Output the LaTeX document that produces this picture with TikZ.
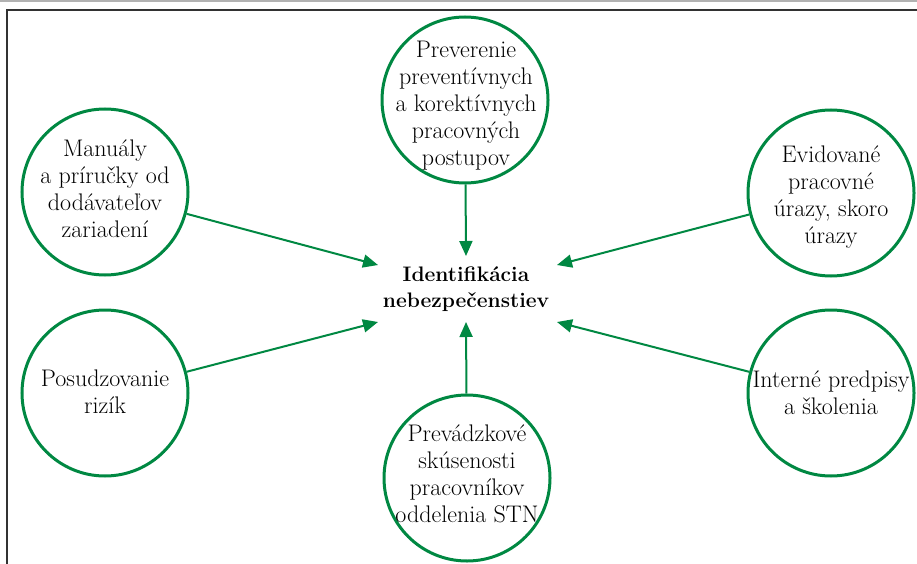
\documentclass[tikz,border=0pt]{standalone}
\usetikzlibrary{arrows.meta}
\definecolor{gr}{RGB}{0,136,66}
\definecolor{fr}{RGB}{50,50,50}
\tikzset{
  src/.style={circle, draw=gr, line width=3pt, minimum size=166pt, inner sep=0pt},
  txt/.style={align=center, font=\fontsize{24}{27}\selectfont, text=black, inner sep=0pt},
  arr/.style={draw=gr, line width=2pt, -{Triangle[length=15pt,width=13pt]}},
}
\begin{document}
\begin{tikzpicture}[x=1pt,y=-1pt]
\useasboundingbox (0,0) rectangle (917,564);
\draw[gray!60, line width=1.2pt] (0,1) -- (917,1);
\draw[fr, line width=2.2pt] (7,564) -- (7,10) -- (917,10);
\node[src] (t) at (465,100) {};
\node[txt] (tt) at (466,106) {Preverenie\\preventívnych\\a korektívnych\\pracovných\\postupov};
\node[src] (lt) at (105,192) {};
\node[txt] (ltt) at (105,189) {Manuály\\a príručky od\\dodávateľov\\zariadení};
\node[src] (lb) at (105,393) {};
\node[txt] (lbt) at (105,392) {Posudzovanie\\rizík};
\node[src] (rt) at (831,193) {};
\node[txt] (rtt) at (831,197) {Evidované\\pracovné\\úrazy, skoro\\úrazy};
\node[src] (rb) at (831,393) {};
\node[txt] (rbt) at (831,393) {Interné predpisy\\a školenia};
\node[src] (b) at (467,478) {};
\node[txt] (bt) at (467,474) {Prevádzkové\\skúsenosti\\pracovníkov\\oddelenia STN};
\node[align=center, font=\bfseries\fontsize{21}{26}\selectfont] (c) at (466,289) {Identifikácia\\nebezpečenstiev};
\coordinate (et) at (466,256);
\coordinate (eb) at (466,322);
\coordinate (elt) at (378,265);
\coordinate (elb) at (378,322);
\coordinate (ert) at (557,265);
\coordinate (erb) at (557,322);
\draw[arr] (t) -- (et);
\draw[arr] (b) -- (eb);
\draw[arr] (lt) -- (elt);
\draw[arr] (lb) -- (elb);
\draw[arr] (rt) -- (ert);
\draw[arr] (rb) -- (erb);
\end{tikzpicture}
\end{document}
